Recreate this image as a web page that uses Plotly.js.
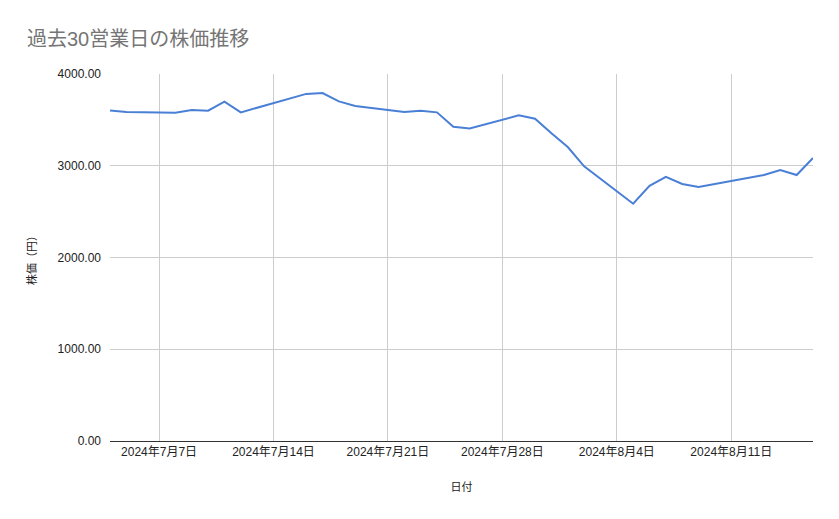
<!DOCTYPE html>
<html>
<head>
<meta charset="utf-8">
<script src="https://cdn.plot.ly/plotly-3.0.1.min.js"></script>
<style>
  html, body { margin: 0; padding: 0; background: #fff; }
  #chart { width: 839px; height: 519px; }
</style>
</head>
<body>
<div id="chart"></div>
<script>
// 過去30営業日の終値
const dates = [
  '2024-07-04', '2024-07-05', '2024-07-08', '2024-07-09', '2024-07-10',
  '2024-07-11', '2024-07-12', '2024-07-16', '2024-07-17', '2024-07-18',
  '2024-07-19', '2024-07-22', '2024-07-23', '2024-07-24', '2024-07-25',
  '2024-07-26', '2024-07-29', '2024-07-30', '2024-07-31', '2024-08-01',
  '2024-08-02', '2024-08-05', '2024-08-06', '2024-08-07', '2024-08-08',
  '2024-08-09', '2024-08-13', '2024-08-14', '2024-08-15', '2024-08-16'
];
const prices = [
  3603, 3586, 3578, 3608, 3600,
  3698, 3582, 3783, 3793, 3702,
  3651, 3586, 3600, 3582, 3424,
  3407, 3549, 3513, 3354, 3204,
  2993, 2586, 2782, 2880, 2801,
  2768, 2899, 2953, 2899, 3084
];
const tickDates = ['2024-07-07', '2024-07-14', '2024-07-21', '2024-07-28', '2024-08-04', '2024-08-11'];
const tickLabels = ['2024年7月7日', '2024年7月14日', '2024年7月21日', '2024年7月28日', '2024年8月4日', '2024年8月11日'];
const yTicks = [0, 1000, 2000, 3000, 4000];

const fontFamily = '"Liberation Sans", Arial, "Noto Sans CJK JP", sans-serif';

const data = [{
  x: dates,
  y: prices,
  type: 'scatter',
  mode: 'lines',
  line: { color: '#4a7fd6', width: 2 },
  showlegend: false,
  hoverinfo: 'x+y'
}];

const layout = {
  width: 839,
  height: 519,
  paper_bgcolor: '#ffffff',
  plot_bgcolor: '#ffffff',
  font: { family: fontFamily, size: 12, color: '#222222' },
  title: {
    text: '過去30営業日の株価推移',
    font: { family: fontFamily, size: 20, color: '#757575' },
    x: 0,
    xref: 'paper',
    xanchor: 'left',
    y: 1,
    yref: 'container',
    yanchor: 'top',
    pad: { t: 32, l: -83 }
  },
  margin: { l: 110, r: 26, t: 74, b: 78 },
  xaxis: {
    type: 'date',
    range: [dates[0], dates[dates.length - 1]],
    tickvals: tickDates,
    ticktext: tickLabels,
    showgrid: true,
    gridcolor: '#cccccc',
    gridwidth: 1,
    showline: true,
    linecolor: '#333333',
    linewidth: 1,
    ticks: '',
    tickfont: { family: fontFamily, size: 12, color: '#222222' },
    zeroline: false,
    title: {
      text: '日付',
      font: { family: fontFamily, size: 11, color: '#222222' },
      standoff: 24
    }
  },
  yaxis: {
    range: [0, 4000],
    tickvals: yTicks,
    tickformat: '.2f',
    showgrid: true,
    gridcolor: '#cccccc',
    gridwidth: 1,
    showline: false,
    zeroline: false,
    ticks: '',
    ticklabelstandoff: 8,
    tickfont: { family: fontFamily, size: 12, color: '#222222' },
    title: {
      text: '株価（円）',
      font: { family: fontFamily, size: 11, color: '#222222' },
      standoff: 18
    }
  }
};

Plotly.newPlot('chart', data, layout, { displayModeBar: false, responsive: false });
</script>
</body>
</html>
